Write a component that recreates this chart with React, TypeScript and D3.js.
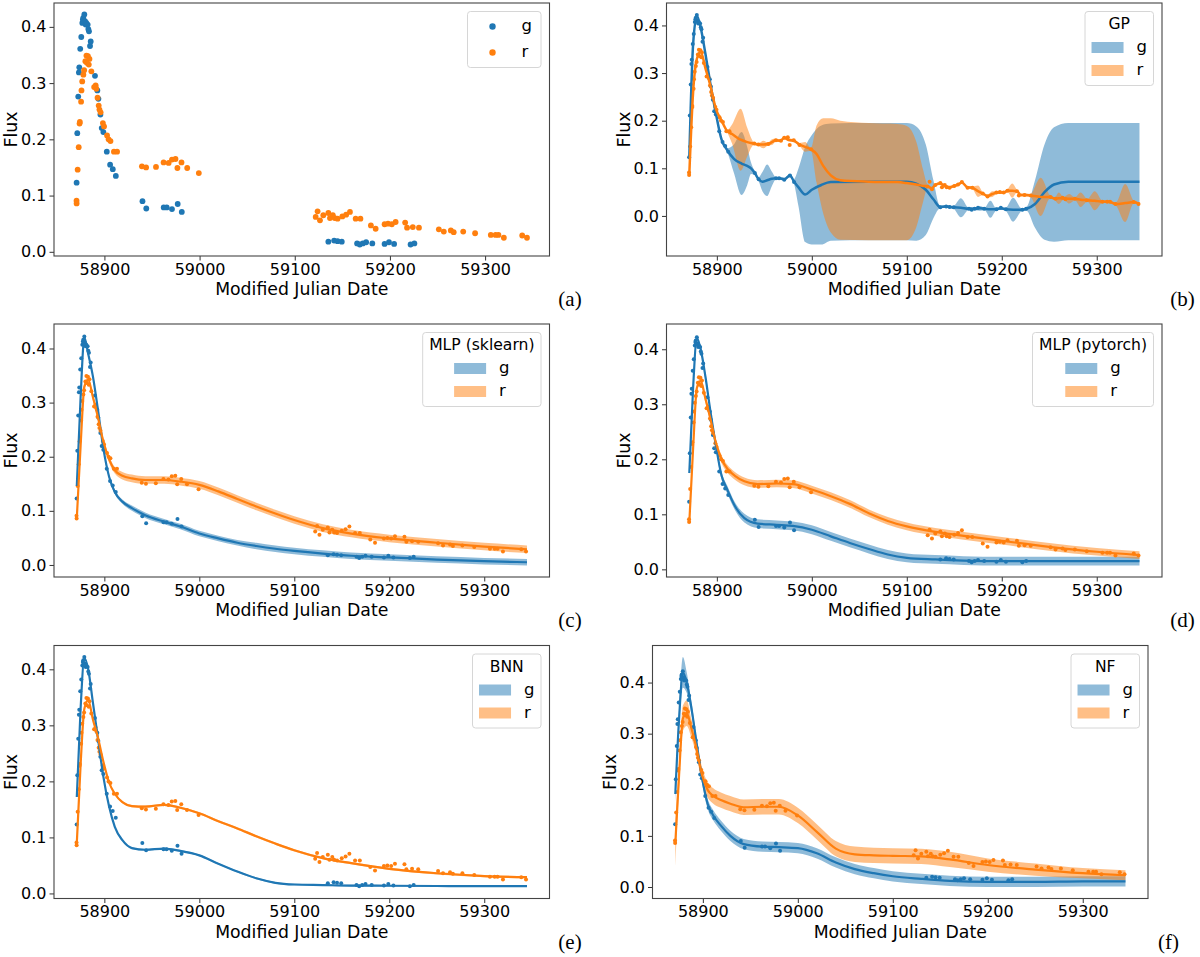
import React, { useEffect, useRef } from 'react';
import * as d3 from 'd3';

const BLUE = '#1f77b4';
const ORANGE = '#ff7f0e';
const FONT = '"DejaVu Sans", sans-serif';
const SERIF = '"Liberation Serif", "DejaVu Serif", serif';

// observed photometry, g band
const gMjd = [58870.8, 58871.5, 58872.5, 58873.2, 58873.6, 58874.6, 58875.7, 58876.8, 58877.4, 58877.8,
  58878.2, 58878.9, 58879.6, 58880.3, 58881.0, 58882.4, 58883.1, 58883.8, 58884.9, 58885.6,
  58890.1, 58892.6, 58893.7, 58895.8, 58897.2, 58898.9, 58902.5, 58906.0, 58908.8, 58912.0,
  58940.0, 58944.0, 58962.3, 58965.5, 58971.0, 58977.0, 58981.3,
  59135.3, 59141.4, 59145.0, 59149.4, 59165.5, 59168.3, 59171.5, 59175.0, 59181.5,
  59194.4, 59199.0, 59204.4, 59221.7, 59225.7];
const gFlux = [0.123, 0.211, 0.276, 0.319, 0.328, 0.361, 0.382, 0.407, 0.413, 0.416,
  0.410, 0.422, 0.410, 0.404, 0.407, 0.404, 0.396, 0.392, 0.366, 0.374,
  0.313, 0.287, 0.272, 0.244, 0.220, 0.213, 0.178, 0.155, 0.147, 0.135,
  0.090, 0.077, 0.079, 0.079, 0.076, 0.085, 0.071,
  0.018, 0.020, 0.019, 0.018, 0.015, 0.013, 0.015, 0.017, 0.015,
  0.014, 0.017, 0.014, 0.013, 0.015];

// observed photometry, r band
const rMjd = [58870.7, 58870.8, 58871.9, 58873.0, 58873.9, 58874.2, 58875.5, 58875.9, 58876.7, 58877.9,
  58878.7, 58880.0, 58881.1, 58882.7, 58884.3, 58881.6, 58883.6, 58886.3, 58889.2, 58890.8,
  58891.5, 58892.8, 58894.0, 58894.8, 58896.0, 58898.4, 58899.6, 58902.8, 58904.4, 58906.4,
  58910.0, 58913.3, 58939.4, 58943.8, 58954.2, 58962.2, 58967.5, 58971.0, 58974.7, 58976.7,
  58981.0, 58987.0, 58999.2,
  59122.0, 59124.0, 59126.5, 59130.0, 59135.3, 59137.0, 59140.0, 59142.0, 59145.0, 59150.0,
  59154.0, 59158.0, 59164.0, 59169.0, 59180.0, 59185.0, 59194.4, 59198.0, 59202.0, 59206.0,
  59216.0, 59218.0, 59224.0, 59230.5, 59251.4, 59256.6, 59264.0, 59267.0, 59277.0, 59289.5,
  59306.0, 59311.0, 59314.0, 59319.7, 59339.0, 59344.0];
const rFlux = [0.091, 0.086, 0.146, 0.186, 0.228, 0.231, 0.267, 0.287, 0.303, 0.315,
  0.323, 0.339, 0.349, 0.348, 0.343, 0.336, 0.333, 0.321, 0.293, 0.296,
  0.290, 0.274, 0.260, 0.253, 0.248, 0.229, 0.223, 0.207, 0.200, 0.197,
  0.178, 0.178, 0.152, 0.150, 0.151, 0.159, 0.158, 0.164, 0.165, 0.149,
  0.159, 0.149, 0.140,
  0.062, 0.072, 0.056, 0.065, 0.069, 0.060, 0.065, 0.060, 0.059, 0.063,
  0.066, 0.071, 0.059, 0.059, 0.047, 0.041, 0.049, 0.050, 0.049, 0.053,
  0.052, 0.043, 0.044, 0.043, 0.040, 0.036, 0.038, 0.035, 0.036, 0.033,
  0.030, 0.030, 0.030, 0.025, 0.029, 0.025];

// GP fit (b)
const gpGMjd = [58871, 58875, 58879, 58883, 58888, 58893, 58899, 58905, 58911, 58918,
  58926, 58932, 58936, 58940, 58944, 58948, 58953, 58958, 58962, 58966,
  58971, 58977, 58981, 58986, 58993, 59000, 59010, 59020, 59060, 59100,
  59110, 59120, 59128, 59135, 59141, 59149, 59157, 59165, 59172, 59177,
  59182, 59188, 59194, 59199, 59204, 59212, 59221, 59226, 59235, 59245,
  59255, 59270, 59345];
const gpG = [0.123, 0.36, 0.42, 0.395, 0.34, 0.28, 0.215, 0.16, 0.138, 0.12,
  0.11, 0.105, 0.1, 0.09, 0.077, 0.072, 0.075, 0.078, 0.079, 0.079,
  0.077, 0.085, 0.073, 0.06, 0.045, 0.055, 0.065, 0.071, 0.072, 0.072,
  0.068, 0.055, 0.035, 0.019, 0.02, 0.018, 0.017, 0.015, 0.015, 0.016,
  0.015, 0.014, 0.014, 0.016, 0.014, 0.013, 0.013, 0.015, 0.025, 0.05,
  0.066, 0.072, 0.072];
const gpGErr = [0.003, 0.003, 0.003, 0.003, 0.003, 0.003, 0.003, 0.003, 0.004, 0.03,
  0.066, 0.04, 0.012, 0.004, 0.004, 0.02, 0.033, 0.015, 0.003, 0.003,
  0.003, 0.003, 0.004, 0.04, 0.1, 0.115, 0.125, 0.123, 0.123, 0.123,
  0.12, 0.095, 0.04, 0.003, 0.003, 0.003, 0.02, 0.003, 0.003, 0.005,
  0.003, 0.018, 0.003, 0.003, 0.003, 0.025, 0.003, 0.004, 0.05, 0.1,
  0.12, 0.123, 0.123];
const gpRMjd = [58871, 58875, 58879, 58883, 58888, 58893, 58899, 58905, 58911,
  58916, 58925, 58932, 58939, 58944, 58949, 58954, 58958, 58962, 58967,
  58971, 58975, 58981, 58987, 58993, 58999, 59005, 59012, 59020, 59030,
  59060, 59090, 59100, 59110, 59117, 59122, 59126, 59130, 59135, 59140,
  59145, 59150, 59154, 59158, 59164, 59169, 59175, 59180, 59185, 59190,
  59195, 59202, 59206, 59211, 59216, 59220, 59225, 59230, 59241, 59251,
  59256, 59260, 59265, 59271, 59277, 59283, 59290, 59298, 59306, 59313,
  59320, 59330, 59339, 59345];
const gpR = [0.087, 0.26, 0.33, 0.345, 0.31, 0.275, 0.225, 0.2, 0.178,
  0.172, 0.16, 0.155, 0.152, 0.15, 0.15, 0.151, 0.155, 0.159, 0.158,
  0.164, 0.16, 0.158, 0.15, 0.145, 0.14, 0.13, 0.105, 0.085, 0.075,
  0.072, 0.071, 0.069, 0.066, 0.063, 0.062, 0.058, 0.065, 0.068, 0.063,
  0.06, 0.063, 0.066, 0.07, 0.06, 0.059, 0.052, 0.047, 0.042, 0.046,
  0.049, 0.049, 0.053, 0.053, 0.052, 0.044, 0.044, 0.043, 0.04, 0.04,
  0.036, 0.037, 0.037, 0.036, 0.036, 0.034, 0.033, 0.032, 0.030, 0.030,
  0.025, 0.027, 0.029, 0.025];
const gpRErr = [0.003, 0.003, 0.003, 0.003, 0.003, 0.003, 0.003, 0.003, 0.003,
  0.02, 0.065, 0.03, 0.003, 0.003, 0.008, 0.003, 0.006, 0.003, 0.003,
  0.003, 0.003, 0.003, 0.003, 0.01, 0.003, 0.06, 0.1, 0.12, 0.125,
  0.123, 0.122, 0.12, 0.09, 0.035, 0.003, 0.003, 0.003, 0.003, 0.003,
  0.003, 0.003, 0.003, 0.003, 0.003, 0.003, 0.012, 0.003, 0.003, 0.006,
  0.003, 0.003, 0.003, 0.015, 0.003, 0.003, 0.003, 0.003, 0.04, 0.003,
  0.003, 0.012, 0.003, 0.01, 0.003, 0.015, 0.003, 0.02, 0.003, 0.003,
  0.003, 0.04, 0.003, 0.003];

// knot dates shared by the smooth fits (c-f)
const fitMjd = [58871, 58875, 58879, 58883, 58888, 58893, 58899, 58905, 58911, 58919,
  58929, 58943, 58963, 58980, 59000, 59020, 59040, 59060, 59080, 59100,
  59130, 59160, 59200, 59250, 59300, 59345];

// MLP (sklearn)
const skG = [0.146, 0.31, 0.42, 0.39, 0.348, 0.29, 0.215, 0.163, 0.135, 0.117,
  0.105, 0.092, 0.080, 0.071, 0.058, 0.049, 0.041, 0.035, 0.030, 0.026,
  0.021, 0.017, 0.014, 0.010, 0.007, 0.005];
const skGErr = [0.004, 0.004, 0.004, 0.004, 0.004, 0.004, 0.004, 0.004, 0.004, 0.004,
  0.005, 0.005, 0.005, 0.005, 0.005, 0.005, 0.005, 0.006, 0.006, 0.006,
  0.006, 0.006, 0.006, 0.006, 0.006, 0.006];
const skR = [0.087, 0.22, 0.33, 0.342, 0.31, 0.275, 0.228, 0.195, 0.175, 0.165,
  0.16, 0.157, 0.157, 0.154, 0.148, 0.136, 0.122, 0.108, 0.095, 0.083,
  0.068, 0.058, 0.049, 0.041, 0.034, 0.029];
const skRErr = [0.005, 0.005, 0.006, 0.006, 0.006, 0.006, 0.006, 0.006, 0.006, 0.007,
  0.007, 0.007, 0.007, 0.007, 0.007, 0.007, 0.007, 0.007, 0.007, 0.007,
  0.007, 0.007, 0.007, 0.007, 0.007, 0.007];

// MLP (pytorch)
const ptG = [0.175, 0.33, 0.42, 0.40, 0.35, 0.29, 0.225, 0.17, 0.145, 0.115,
  0.093, 0.083, 0.081, 0.079, 0.072, 0.060, 0.048, 0.037, 0.027, 0.021,
  0.018, 0.016, 0.015, 0.015, 0.015, 0.015];
const ptGErr = [0.005, 0.005, 0.005, 0.005, 0.006, 0.006, 0.006, 0.007, 0.007, 0.007,
  0.008, 0.008, 0.008, 0.008, 0.008, 0.008, 0.008, 0.008, 0.008, 0.008,
  0.008, 0.008, 0.008, 0.008, 0.008, 0.008];
const ptR = [0.085, 0.22, 0.33, 0.342, 0.31, 0.275, 0.23, 0.2, 0.183, 0.17,
  0.16, 0.155, 0.156, 0.155, 0.145, 0.133, 0.119, 0.102, 0.088, 0.078,
  0.068, 0.061, 0.052, 0.041, 0.032, 0.026];
const ptRErr = [0.006, 0.006, 0.006, 0.006, 0.007, 0.007, 0.007, 0.007, 0.007, 0.007,
  0.007, 0.007, 0.007, 0.007, 0.007, 0.007, 0.007, 0.007, 0.007, 0.007,
  0.007, 0.007, 0.007, 0.007, 0.007, 0.007];

// BNN
const bnG = [0.172, 0.33, 0.42, 0.40, 0.34, 0.28, 0.208, 0.155, 0.119, 0.095,
  0.081, 0.078, 0.080, 0.076, 0.068, 0.053, 0.039, 0.027, 0.019, 0.016,
  0.015, 0.014, 0.0137, 0.0133, 0.013, 0.013];
const bnGErr = [0.0015, 0.0015, 0.0015, 0.0015, 0.0015, 0.0015, 0.0015, 0.0015, 0.0015, 0.0015,
  0.0015, 0.0015, 0.0015, 0.0015, 0.0015, 0.0015, 0.0015, 0.0015, 0.0015, 0.0015,
  0.0015, 0.0015, 0.0015, 0.0015, 0.0015, 0.0015];
const bnR = [0.09, 0.23, 0.33, 0.345, 0.31, 0.28, 0.235, 0.198, 0.178, 0.163,
  0.156, 0.155, 0.158, 0.153, 0.143, 0.129, 0.116, 0.102, 0.089, 0.077,
  0.063, 0.054, 0.044, 0.036, 0.031, 0.029];
const bnRErr = [0.002, 0.002, 0.002, 0.002, 0.002, 0.002, 0.002, 0.002, 0.002, 0.002,
  0.002, 0.002, 0.002, 0.002, 0.002, 0.002, 0.002, 0.002, 0.002, 0.002,
  0.002, 0.002, 0.002, 0.002, 0.002, 0.002];

// NF
const nfG = [0.182, 0.33, 0.42, 0.40, 0.35, 0.287, 0.215, 0.163, 0.14, 0.12,
  0.1, 0.084, 0.079, 0.078, 0.076, 0.066, 0.048, 0.035, 0.027, 0.021,
  0.016, 0.012, 0.010, 0.010, 0.011, 0.011];
const nfGErr = [0.015, 0.02, 0.03, 0.02, 0.012, 0.01, 0.01, 0.01, 0.01, 0.01,
  0.01, 0.01, 0.01, 0.01, 0.01, 0.01, 0.01, 0.01, 0.01, 0.01,
  0.01, 0.01, 0.01, 0.01, 0.01, 0.01];
const nfR = [0.085, 0.22, 0.33, 0.34, 0.31, 0.274, 0.22, 0.19, 0.178, 0.17,
  0.163, 0.156, 0.157, 0.157, 0.14, 0.108, 0.075, 0.064, 0.062, 0.061,
  0.060, 0.054, 0.043, 0.034, 0.027, 0.023];
const nfRErr = [0.045, 0.025, 0.025, 0.025, 0.018, 0.015, 0.015, 0.015, 0.015, 0.015,
  0.015, 0.015, 0.015, 0.015, 0.015, 0.015, 0.015, 0.015, 0.015, 0.015,
  0.015, 0.015, 0.013, 0.012, 0.01, 0.01];

const bands = ['g', 'r'];
const xLabel = 'Modified Julian Date';
const yLabel = 'Flux';

interface Fit { mjd: number[]; mean: number[]; err: number[] }
interface Panel {
  left: number; top: number; tag: string; title?: string;
  g?: Fit; r?: Fit; lw?: number;
}

const W = 495.5;
const H = 253;

const panels: Panel[] = [
  { left: 54, top: 3, tag: '(a)' },
  { left: 666.5, top: 3, tag: '(b)', title: 'GP', lw: 2.5,
    g: { mjd: gpGMjd, mean: gpG, err: gpGErr }, r: { mjd: gpRMjd, mean: gpR, err: gpRErr } },
  { left: 54, top: 324, tag: '(c)', title: 'MLP (sklearn)',
    g: { mjd: fitMjd, mean: skG, err: skGErr }, r: { mjd: fitMjd, mean: skR, err: skRErr } },
  { left: 666.5, top: 324, tag: '(d)', title: 'MLP (pytorch)',
    g: { mjd: fitMjd, mean: ptG, err: ptGErr }, r: { mjd: fitMjd, mean: ptR, err: ptRErr } },
  { left: 54, top: 645.5, tag: '(e)', title: 'BNN',
    g: { mjd: fitMjd, mean: bnG, err: bnGErr }, r: { mjd: fitMjd, mean: bnR, err: bnRErr } },
  { left: 652.5, top: 645.5, tag: '(f)', title: 'NF',
    g: { mjd: fitMjd, mean: nfG, err: nfGErr }, r: { mjd: fitMjd, mean: nfR, err: nfRErr } },
];

function textWidth(s: string, size: number) {
  const ctx = document.createElement('canvas').getContext('2d')!;
  ctx.font = `${size}px "DejaVu Sans"`;
  return ctx.measureText(s).width;
}

function padded(ext: [number, number]): [number, number] {
  const d = (ext[1] - ext[0]) * 0.05;
  return [ext[0] - d, ext[1] + d];
}

function drawPanel(svg: any, p: Panel, idx: number) {
  const root = svg.append('g').attr('transform', `translate(${p.left},${p.top})`);
  const fits = p.g && p.r ? [{ f: p.g, c: BLUE }, { f: p.r, c: ORANGE }] : [];

  const allX = [...gMjd, ...rMjd, ...fits.flatMap(d => d.f.mjd)];
  const allY = [...gFlux, ...rFlux,
    ...fits.flatMap(d => d.f.mean.map((m, i) => m - d.f.err[i])),
    ...fits.flatMap(d => d.f.mean.map((m, i) => m + d.f.err[i]))];

  const x = d3.scaleLinear().domain(padded(d3.extent(allX) as [number, number])).range([0, W]);
  const y = d3.scaleLinear().domain(padded(d3.extent(allY) as [number, number])).range([H, 0]);

  const clipId = `clip-${idx}`;
  root.append('clipPath').attr('id', clipId).append('rect').attr('width', W).attr('height', H);
  const plot = root.append('g').attr('clip-path', `url(#${clipId})`);

  // uncertainty bands
  fits.forEach(({ f, c }) => {
    const area = d3.area<number>()
      .x(i => x(f.mjd[i]))
      .y0(i => y(f.mean[i] - f.err[i]))
      .y1(i => y(f.mean[i] + f.err[i]))
      .curve(d3.curveMonotoneX);
    plot.append('path')
      .attr('d', area(d3.range(f.mjd.length)))
      .attr('fill', c)
      .attr('fill-opacity', 0.5);
  });

  // observations
  const rad = fits.length ? 2.0 : 2.9;
  [{ xs: gMjd, ys: gFlux, c: BLUE }, { xs: rMjd, ys: rFlux, c: ORANGE }].forEach(s => {
    plot.append('g').selectAll('circle')
      .data(d3.range(s.xs.length))
      .join('circle')
      .attr('cx', (i: number) => x(s.xs[i]))
      .attr('cy', (i: number) => y(s.ys[i]))
      .attr('r', rad)
      .attr('fill', s.c);
  });

  // mean curves
  fits.forEach(({ f, c }) => {
    const line = d3.line<number>()
      .x(i => x(f.mjd[i]))
      .y(i => y(f.mean[i]))
      .curve(d3.curveMonotoneX);
    plot.append('path')
      .attr('d', line(d3.range(f.mjd.length)))
      .attr('fill', 'none')
      .attr('stroke', c)
      .attr('stroke-width', p.lw || 2.2);
  });

  // axes
  const xAxis = root.append('g')
    .attr('transform', `translate(0,${H})`)
    .call(d3.axisBottom(x).ticks(5).tickFormat(d3.format('d')).tickSize(4.5).tickPadding(3));
  const yAxis = root.append('g')
    .call(d3.axisLeft(y).ticks(5).tickFormat(d3.format('.1f')).tickSize(4.5).tickPadding(3));
  [xAxis, yAxis].forEach(a => {
    a.select('.domain').remove();
    a.attr('font-family', FONT).attr('font-size', 16);
    a.selectAll('line').attr('stroke', '#333');
    a.selectAll('text').attr('fill', '#000');
  });

  root.append('rect')
    .attr('width', W).attr('height', H)
    .attr('fill', 'none').attr('stroke', '#444').attr('stroke-width', 1.1);

  root.append('text')
    .attr('x', W / 2).attr('y', H + 39)
    .attr('text-anchor', 'middle')
    .attr('font-family', FONT).attr('font-size', 17.3)
    .text(xLabel);
  root.append('text')
    .attr('transform', `translate(-37,${H / 2}) rotate(-90)`)
    .attr('text-anchor', 'middle')
    .attr('font-family', FONT).attr('font-size', 17.3)
    .text(yLabel);

  // panel tag
  svg.append('text')
    .attr('x', p.left + W + 20.5).attr('y', p.top + H + 50)
    .attr('text-anchor', 'middle')
    .attr('font-family', SERIF).attr('font-size', 21)
    .text(p.tag);

  // legend
  const entryFs = 16.5;
  const titleFs = 15.6;
  const handleW = 32;
  const gap = 13;
  const labelW = d3.max(bands, b => textWidth(b, entryFs))!;
  const entryW = handleW + gap + labelW;
  const titleW = p.title ? textWidth(p.title, titleFs) : 0;
  const contentW = Math.max(entryW, titleW);
  const boxW = contentW + (p.title ? 13 : 18);
  const firstY = p.title ? 36 : 15;
  const step = p.title ? 23 : 26;
  const boxH = firstY + step + 15;
  const leg = root.append('g').attr('transform', `translate(${W - 8.5 - boxW},${8.5})`);
  leg.append('rect')
    .attr('width', boxW).attr('height', boxH).attr('rx', 3)
    .attr('fill', '#fff').attr('fill-opacity', 0.8)
    .attr('stroke', '#d6d6d6').attr('stroke-width', 1);
  if (p.title) {
    leg.append('text')
      .attr('x', boxW / 2).attr('y', 12.5)
      .attr('dominant-baseline', 'central')
      .attr('text-anchor', 'middle')
      .attr('font-family', FONT).attr('font-size', titleFs)
      .text(p.title);
  }
  const ex = (boxW - entryW) / 2;
  bands.forEach((b, i) => {
    const cy = firstY + i * step;
    const c = b === 'g' ? BLUE : ORANGE;
    if (p.title) {
      leg.append('rect')
        .attr('x', ex).attr('y', cy - 5.5).attr('width', handleW).attr('height', 11)
        .attr('fill', c).attr('fill-opacity', 0.5);
    } else {
      leg.append('circle').attr('cx', ex + handleW / 2).attr('cy', cy).attr('r', 3.2).attr('fill', c);
    }
    leg.append('text')
      .attr('x', ex + handleW + gap).attr('y', cy + 4.5)
      .attr('font-family', FONT).attr('font-size', entryFs)
      .text(b);
  });
}

export default function App() {
  const ref = useRef<SVGSVGElement>(null);

  useEffect(() => {
    document.body.style.margin = '0';
    if (!ref.current) return;
    const svg = d3.select(ref.current);
    svg.selectAll('*').remove();
    panels.forEach((p, i) => drawPanel(svg, p, i));
  }, []);

  return <svg ref={ref} width={1200} height={957} style={{ display: 'block', background: '#fff' }} />;
}
